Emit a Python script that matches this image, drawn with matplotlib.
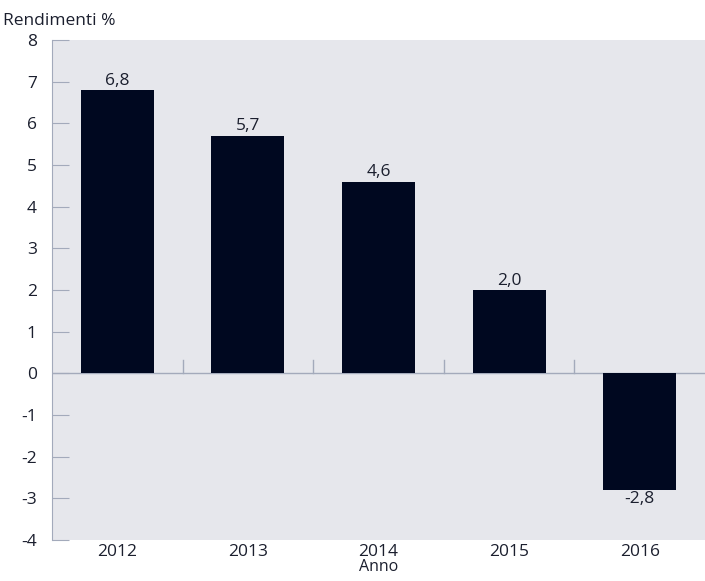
import numpy as np
from matplotlib import pyplot as plt

years = ['2012', '2013', '2014', '2015', '2016']
returns = [6.8, 5.7, 4.6, 2.0, -2.8]
y_ticks = [-4, -3, -2, -1, 0, 1, 2, 3, 4, 5, 6, 7, 8]

plt.rcParams['font.family'] = ['Open Sans', 'DejaVu Sans']
text_color = '#1b1f2e'
grid_color = '#a3aabb'
bar_color = '#000820'
fs = 12.5

fig = plt.figure(figsize=(7.05, 5.81), dpi=100)
ax = fig.add_axes([52 / 705, 41 / 581, 1 - 52 / 705, 500 / 581])
ax.set_facecolor('#e6e7ec')

x = np.arange(len(years))
bars = ax.bar(x, returns, 0.56, color=bar_color, zorder=3)
labels = [('%.1f' % v).replace('.', ',') for v in returns]
ax.bar_label(bars, labels=labels, padding=1, fontsize=fs, color=text_color)

ax.set_xlim(-0.5, len(years) - 0.5)
ax.set_ylim(y_ticks[0], y_ticks[-1])

# zero line and small separators between categories
ax.axhline(0, color=grid_color, lw=1, zorder=2)
for b in np.arange(0.5, len(years) - 0.5, 1):
    ax.plot([b, b], [0, 0.33], color=grid_color, lw=1, zorder=2)

for side in ['top', 'right', 'bottom']:
    ax.spines[side].set_visible(False)
ax.spines['left'].set_color(grid_color)

ax.set_yticks(y_ticks)
ax.set_yticklabels([str(t) for t in y_ticks])
ax.tick_params(axis='y', direction='in', length=12, color=grid_color,
               labelsize=fs, labelcolor=text_color, pad=11)
ax.set_xticks(x)
ax.set_xticklabels(years)
ax.tick_params(axis='x', length=0, labelsize=fs, labelcolor=text_color, pad=3)

ax.set_xlabel('Anno', fontsize=11.5, color=text_color, labelpad=-1)
fig.text(3 / 705, 1 - 21 / 581, 'Rendimenti %', fontsize=fs, color=text_color,
         va='center', ha='left')

fig.savefig('out.png', dpi=100)
